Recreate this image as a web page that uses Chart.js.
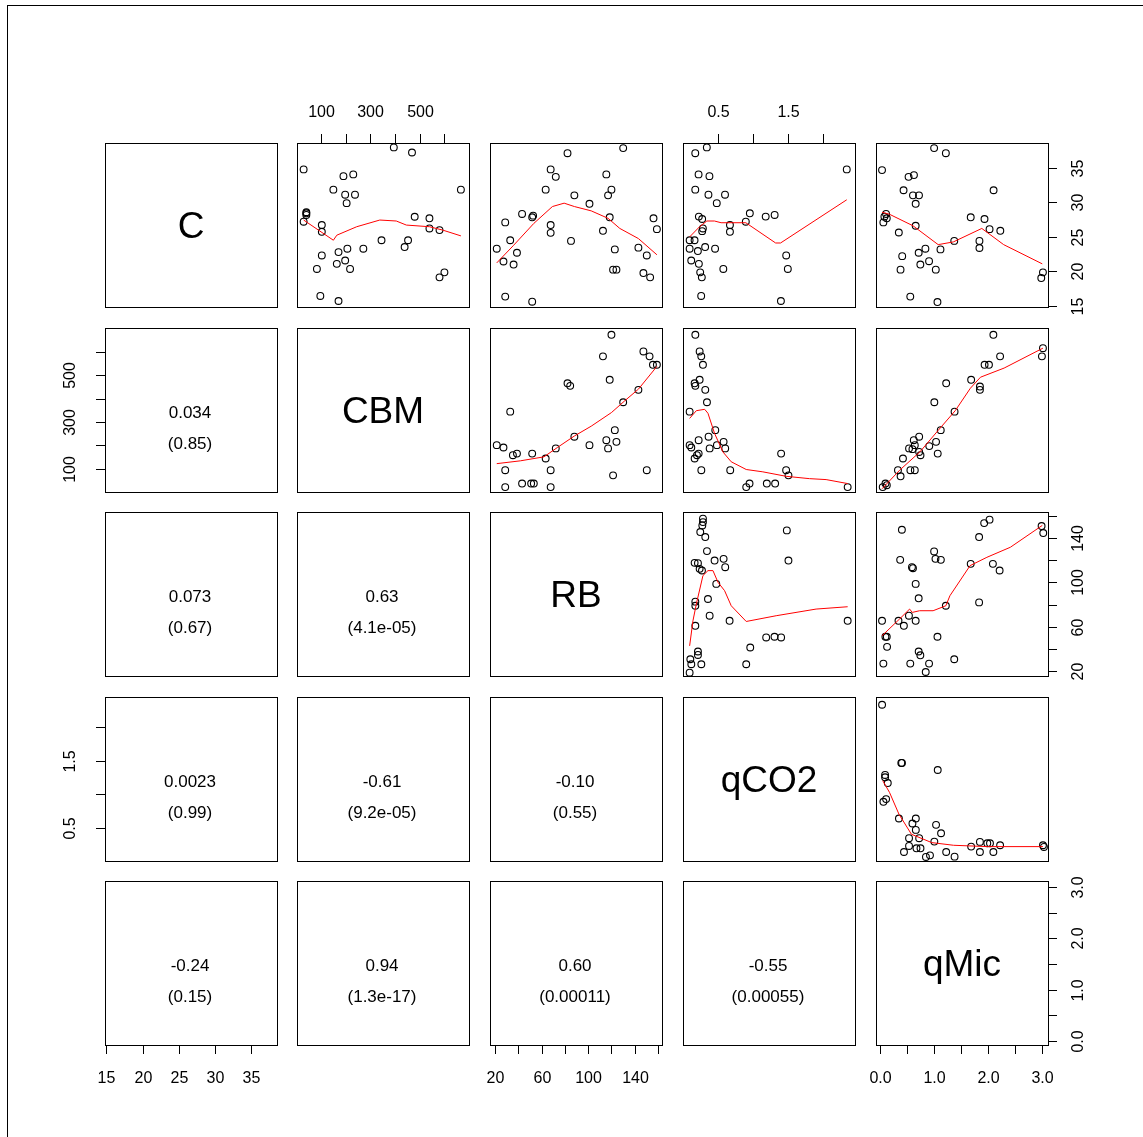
<!DOCTYPE html>
<html>
<head>
<meta charset="utf-8">
<script src="https://cdn.jsdelivr.net/npm/chart.js@4.4.0/dist/chart.umd.min.js"></script>
<style>
  body { margin: 0; background: #fff; width: 1143px; height: 1137px; overflow: hidden; position: relative; }
  #frame { position: absolute; left: 7px; top: 5px; width: 1200px; height: 1200px; border-left: 1px solid #000; border-top: 1px solid #000; }
  canvas { position: absolute; }
</style>
</head>
<body>
<div id="frame"></div>
<script>
// variables of the pairs plot
const varNames = ['C', 'CBM', 'RB', 'qCO2', 'qMic'];
const axisMin = [14.8, 1, 15.5, 0.01, -0.078];
const axisMax = [38.6, 701, 163.5, 2.45, 3.118];

// tick values and labels (empty label = tick only)
const ticksC = [15, 20, 25, 30, 35];
const labelsC = ['15', '20', '25', '30', '35'];
const ticksCBM = [100, 200, 300, 400, 500, 600];
const labelsCBM = ['100', '', '300', '', '500', ''];
const ticksRB = [20, 40, 60, 80, 100, 120, 140, 160];
const labelsRB = ['20', '', '60', '', '100', '', '140', ''];
const ticksQCO2 = [0.5, 1.0, 1.5, 2.0];
const labelsQCO2 = ['0.5', '', '1.5', ''];
const ticksQMic = [0, 0.5, 1.0, 1.5, 2.0, 2.5, 3.0];
const labelsQMic = ['0.0', '', '1.0', '', '2.0', '', '3.0'];

// lower panels: correlation and p-value, by [row][col]
const corR = [[], ['0.034'], ['0.073', '0.63'], ['0.0023', '-0.61', '-0.10'], ['-0.24', '0.94', '0.60', '-0.55']];
const corP = [[], ['(0.85)'], ['(0.67)', '(4.1e-05)'], ['(0.99)', '(9.2e-05)', '(0.55)'], ['(0.15)', '(1.3e-17)', '(0.00011)', '(0.00055)']];

// upper panels: [x, y] points, name = yvar_xvar
const C_CBM = [[395,37.96],[469,37.22],[28,34.77],[190,33.79],[230,34.04],[149,31.83],[197,31.1],[237,31.1],[203,29.87],[668,31.83],
  [39,28.55],[39,28.4],[39,28.16],[28,27.18],[480,27.9],[540,27.67],[540,26.2],[581,25.96],[102,26.69],[102,25.71],[345,24.49],
  [453,24.49],[439,23.5],[170,22.77],[206,23.26],[271,23.26],[102,22.28],[197,21.55],[163,21.06],[82,20.32],[217,20.32],[601,19.83],
  [581,19.1],[96,16.4],[170,15.67]];
const C_CBM_fit = [[28,27.42],[149,24.49],[163,25.22],[244,26.45],[338,27.42],[405,27.28],[446,26.69],[540,26.45],[594,25.96],[668,25.12]];

const C_RB = [[130.1,37.86],[82.2,37.12],[67.7,34.77],[72.1,33.69],[115.6,34.04],[63.4,31.83],[120,31.83],[117.1,31.0],[88.1,31.0],
  [101.1,29.78],[43.1,28.3],[52.6,28.06],[51.8,27.82],[118.5,27.82],[156.2,27.67],[159.1,26.1],[28.6,27.08],[67.7,26.69],[67.7,25.56],
  [112.7,25.86],[32.9,24.49],[85.2,24.39],[21.3,23.26],[38.7,22.67],[122.9,23.16],[143.2,23.41],[150.4,22.28],[27.1,21.4],[35.8,20.96],
  [121.4,20.22],[124.3,20.22],[147.5,19.73],[153.3,19.1],[28.6,16.31],[51.8,15.57]];
const C_RB_fit = [[21.3,21.2],[35.8,23.75],[53.2,26.93],[69.2,29.38],[79.3,29.87],[88.1,29.38],[102.6,28.75],[117.1,27.67],[127.2,26.2],[143.2,24.73],[159.1,22.38]];

const C_qCO2 = [[0.348,37.96],[0.184,37.12],[2.333,34.77],[0.231,34.04],[0.385,33.79],[0.184,31.83],[0.371,31.1],[0.606,31.1],[0.489,29.87],
  [0.958,28.4],[1.183,27.92],[1.31,28.16],[0.235,27.92],[0.282,27.57],[0.292,26.2],[0.282,25.81],[0.676,26.69],[0.676,25.71],[0.901,27.18],
  [0.104,24.49],[0.174,24.49],[0.104,23.26],[0.221,22.92],[0.324,23.5],[0.465,23.26],[0.127,21.55],[0.235,21.06],[0.254,19.83],[0.277,19.1],
  [0.582,20.32],[1.474,22.28],[1.497,20.32],[0.268,16.4],[1.399,15.67]];
const C_qCO2_fit = [[0.104,24.97],[0.245,26.45],[0.348,27.28],[0.456,27.28],[0.55,27.03],[0.901,27.03],[1.324,24.09],[1.394,24.09],[2.333,30.36]];

const C_qMic = [[1.002,37.86],[1.22,37.12],[0.034,34.67],[0.527,33.69],[0.627,33.94],[0.434,31.74],[0.609,31.0],[0.721,31.0],[0.659,29.78],
  [2.107,31.74],[0.109,28.3],[0.078,27.91],[0.122,27.67],[0.059,27.08],[0.659,26.59],[1.682,27.82],[1.938,27.57],[2.032,26.1],[2.232,25.86],
  [0.346,25.61],[1.376,24.39],[1.12,23.16],[0.84,23.26],[0.715,22.67],[1.844,24.39],[1.844,23.36],[0.409,22.18],[0.908,21.45],[0.746,20.96],
  [0.378,20.22],[1.033,20.22],[3.024,19.83],[2.993,19.0],[0.559,16.31],[1.064,15.52]];
const C_qMic_fit = [[0.034,28.55],[0.172,28.26],[0.609,26.59],[1.077,23.85],[1.358,24.24],[1.888,26.2],[2.294,23.85],[3.012,21.06]];

const CBM_RB = [[120,672],[147.5,601],[152.8,580],[155.7,544],[159.1,544],[112.7,580],[82.2,465],[84.5,454],[118.5,480],[143.2,437],
  [130.1,384],[32.9,344],[88.1,237],[122.9,265],[115.6,222],[124.3,215],[117.1,187],[101.1,201],[72.1,187],[21.3,201],[27.1,191],
  [38.7,165],[35.2,158],[51.8,165],[63.4,144],[28.6,94],[67.7,94],[150.4,94],[121.4,72],[43.1,37],[50.9,37],[53.2,37],[28.6,22],[67.7,22]];
const CBM_RB_fit = [[21.3,122],[41.6,134],[61.9,151],[73.5,191],[88.1,240],[102.6,282],[120,340],[131.6,391],[143.2,440],[159.1,537]];

const CBM_qCO2 = [[0.185,672],[0.246,601],[0.269,580],[0.293,544],[0.246,480],[0.175,465],[0.185,454],[0.326,437],[0.35,384],[0.104,344],
  [0.468,265],[0.373,237],[0.232,222],[0.104,201],[0.128,191],[0.586,215],[0.609,187],[0.491,201],[0.388,187],[0.232,165],[0.208,158],
  [0.175,144],[1.402,165],[0.27,94],[0.68,94],[1.473,94],[1.506,72],[0.954,37],[0.907,22],[1.199,37],[1.317,37],[2.346,22]];
const CBM_qCO2_fit = [[0.104,315],[0.199,348],[0.317,354],[0.364,337],[0.458,251],[0.576,172],[0.694,130],[0.907,97],[1.143,87],[1.473,68],[1.804,58],[2.04,54],[2.346,37]];

const CBM_qMic = [[2.103,672],[3.024,615],[3.005,580],[2.228,580],[1.94,544],[2.021,544],[1.226,465],[1.69,480],[1.853,451],[1.853,437],
  [1.006,384],[1.382,344],[1.125,265],[0.724,237],[0.624,222],[1.038,215],[0.912,197],[0.643,201],[0.536,187],[0.599,184],[0.724,172],
  [0.749,158],[1.069,165],[0.423,144],[0.33,94],[0.561,94],[0.643,94],[0.379,68],[0.098,37],[0.047,22],[0.123,30]];
const CBM_qMic_fit = [[0.035,15],[0.361,94],[0.737,172],[1.081,265],[1.394,348],[1.676,444],[1.864,491],[2.303,530],[3.024,615]];

const RB_qCO2 = [[0.293,157.5],[0.293,154.4],[0.284,151.4],[0.255,145.4],[0.326,140.9],[1.483,146.9],[0.35,128.2],[1.506,119.7],[0.458,119.7],
  [0.586,121.2],[0.609,113.7],[0.175,117.6],[0.222,117.3],[0.246,112.2],[0.279,110.7],[0.482,98.6],[0.364,85.0],[0.185,82.6],[0.185,78.9],
  [0.388,69.9],[0.671,65.3],[2.346,65.3],[0.185,60.8],[1.19,50.3],[1.308,50.9],[1.402,50.3],[0.964,41.2],[0.222,37.6],[0.222,34.5],
  [0.114,30.6],[0.27,26.1],[0.128,26.1],[0.907,26.1],[0.104,18.5]];
const RB_qCO2_fit = [[0.104,42.7],[0.151,65.3],[0.199,80.4],[0.293,106.1],[0.364,110.6],[0.435,110.6],[0.506,100.1],[0.6,92.5],[0.694,78.9],[0.907,64.7],[1.332,69.9],[1.898,75.9],[2.346,78.0]];

const RB_qMic = [[2.032,156.6],[1.932,153.5],[0.403,147.5],[2.999,150.8],[3.03,144.5],[1.838,140.9],[1.002,127.9],[1.027,121.2],[1.127,120.3],
  [0.371,120.3],[0.59,113.7],[0.609,112.8],[1.682,116.7],[2.094,116.7],[2.219,110.7],[0.659,98.6],[0.715,85.6],[1.22,78.9],[1.838,81.9],
  [0.034,65.3],[0.34,65.3],[0.534,69.9],[0.659,65.3],[0.44,60.8],[0.097,50.9],[0.122,50.9],[1.064,50.9],[0.128,41.8],[0.715,37.6],
  [0.746,34.2],[1.376,30.6],[0.059,26.7],[0.559,26.7],[0.908,26.7],[0.846,19.1]];
const RB_qMic_fit = [[0.034,51.8],[0.359,66.9],[0.546,75.9],[0.596,72.9],[0.733,74.4],[0.983,74.4],[1.22,78.9],[1.295,87.9],[1.67,115.1],[1.982,122.6],[2.419,131.7],[3.012,151.4]];

const qCO2_qMic = [[0.035,2.335],[0.392,1.469],[0.405,1.469],[1.069,1.364],[0.091,1.29],[0.091,1.255],[0.141,1.17],[0.06,0.891],[0.11,0.931],
  [0.348,0.642],[0.662,0.642],[0.599,0.568],[1.038,0.548],[0.662,0.473],[1.131,0.423],[0.536,0.349],[0.724,0.349],[1.006,0.299],[0.536,0.234],
  [0.674,0.199],[0.749,0.199],[0.442,0.144],[1.226,0.144],[1.382,0.075],[0.85,0.07],[0.925,0.094],[1.69,0.224],[1.853,0.294],[1.853,0.144],
  [1.99,0.274],[2.04,0.274],[2.103,0.144],[2.228,0.244],[3.024,0.244],[3.043,0.219]];
const qCO2_qMic_fit = [[0.047,1.205],[0.173,1.031],[0.348,0.707],[0.58,0.408],[0.956,0.284],[1.363,0.244],[1.99,0.224],[3.024,0.224]];

// layout of the grid (pixels)
const W = 172, H = 164, PAD = 50;
const colLeft = [105, 297, 490, 683, 876];
const rowTop = [143, 328, 512, 697, 881];
const FONT = "'Liberation Sans', Arial, sans-serif";

const upper = {
  '0,1': [C_CBM, C_CBM_fit], '0,2': [C_RB, C_RB_fit], '0,3': [C_qCO2, C_qCO2_fit], '0,4': [C_qMic, C_qMic_fit],
  '1,2': [CBM_RB, CBM_RB_fit], '1,3': [CBM_qCO2, CBM_qCO2_fit], '1,4': [CBM_qMic, CBM_qMic_fit],
  '2,3': [RB_qCO2, RB_qCO2_fit], '2,4': [RB_qMic, RB_qMic_fit],
  '3,4': [qCO2_qMic, qCO2_qMic_fit]
};
const varTicks = [[ticksC, labelsC], [ticksCBM, labelsCBM], [ticksRB, labelsRB], [ticksQCO2, labelsQCO2], [ticksQMic, labelsQMic]];

// which outer axes each panel gets (R pairs alternates them)
function sidesFor(r, c) {
  const s = [];
  if (r === 0 && c % 2 === 1) s.push('top');
  if (r === 4 && c % 2 === 0) s.push('bottom');
  if (c === 4 && r % 2 === 0) s.push('right');
  if (c === 0 && r % 2 === 1) s.push('left');
  return s;
}

const panelPlugin = {
  id: 'panel',
  afterDraw(chart) {
    const o = chart.options.plugins.panel;
    const ctx = chart.ctx, a = chart.chartArea;
    ctx.save();
    ctx.strokeStyle = '#000';
    ctx.lineWidth = 1;
    ctx.strokeRect(Math.round(a.left) + 0.5, Math.round(a.top) + 0.5, Math.round(a.right - a.left), Math.round(a.bottom - a.top));
    const cx = (a.left + a.right) / 2, cy = (a.top + a.bottom) / 2;
    ctx.fillStyle = '#000';
    ctx.textAlign = 'center';
    ctx.textBaseline = 'middle';
    if (o.r === o.c) {
      ctx.font = '37px ' + FONT;
      ctx.fillText(varNames[o.r], cx, cy + 3);
    } else if (o.r > o.c) {
      ctx.font = '17px ' + FONT;
      ctx.fillText(corR[o.r][o.c], cx - 1, cy + 3);
      ctx.fillText(corP[o.r][o.c], cx - 1, cy + 34);
    }
    // outer axes
    ctx.font = '16px ' + FONT;
    const TL = 9;
    o.sides.forEach(side => {
      const horiz = side === 'top' || side === 'bottom';
      const v = horiz ? o.c : o.r;
      const [tv, tl] = varTicks[v];
      const sc = horiz ? chart.scales.x : chart.scales.y;
      tv.forEach((t, i) => {
        const p = Math.round(sc.getPixelForValue(t)) + 0.5;
        ctx.beginPath();
        if (side === 'top') { ctx.moveTo(p, a.top); ctx.lineTo(p, a.top - TL); }
        if (side === 'bottom') { ctx.moveTo(p, a.bottom); ctx.lineTo(p, a.bottom + TL); }
        if (side === 'left') { ctx.moveTo(a.left, p); ctx.lineTo(a.left - TL, p); }
        if (side === 'right') { ctx.moveTo(a.right, p); ctx.lineTo(a.right + TL, p); }
        ctx.stroke();
        if (!tl[i]) return;
        if (horiz) {
          ctx.fillText(tl[i], p, side === 'top' ? a.top - 30 : a.bottom + 34);
        } else {
          ctx.save();
          ctx.translate(side === 'left' ? a.left - 34 : a.right + 31, p);
          ctx.rotate(-Math.PI / 2);
          ctx.fillText(tl[i], 0, 0);
          ctx.restore();
        }
      });
    });
    ctx.restore();
  }
};

function makePanel(r, c) {
  const cv = document.createElement('canvas');
  cv.width = W + 2 * PAD;
  cv.height = H + 2 * PAD;
  cv.style.left = (colLeft[c] - PAD) + 'px';
  cv.style.top = (rowTop[r] - PAD) + 'px';
  document.body.appendChild(cv);

  const datasets = [];
  const up = upper[r + ',' + c];
  if (up) {
    // smoother first so it is drawn on top of the points
    datasets.push({
      data: up[1].map(p => ({ x: p[0], y: p[1] })),
      showLine: true, pointRadius: 0, borderColor: '#ff0000', borderWidth: 1, fill: false, clip: false
    });
    datasets.push({
      data: up[0].map(p => ({ x: p[0], y: p[1] })),
      pointStyle: 'circle', pointRadius: 3.4, borderColor: '#000', backgroundColor: 'rgba(0,0,0,0)', borderWidth: 1.1, clip: false
    });
  }

  new Chart(cv, {
    type: 'scatter',
    data: { datasets },
    options: {
      responsive: false,
      animation: false,
      events: [],
      layout: { padding: PAD },
      plugins: {
        legend: { display: false },
        tooltip: { enabled: false },
        panel: { r, c, sides: sidesFor(r, c) }
      },
      scales: {
        x: { type: 'linear', display: false, min: axisMin[c], max: axisMax[c] },
        y: { type: 'linear', display: false, min: axisMin[r], max: axisMax[r] }
      }
    },
    plugins: [panelPlugin]
  });
}

for (let r = 0; r < 5; r++) {
  for (let c = 0; c < 5; c++) makePanel(r, c);
}
</script>
</body>
</html>
